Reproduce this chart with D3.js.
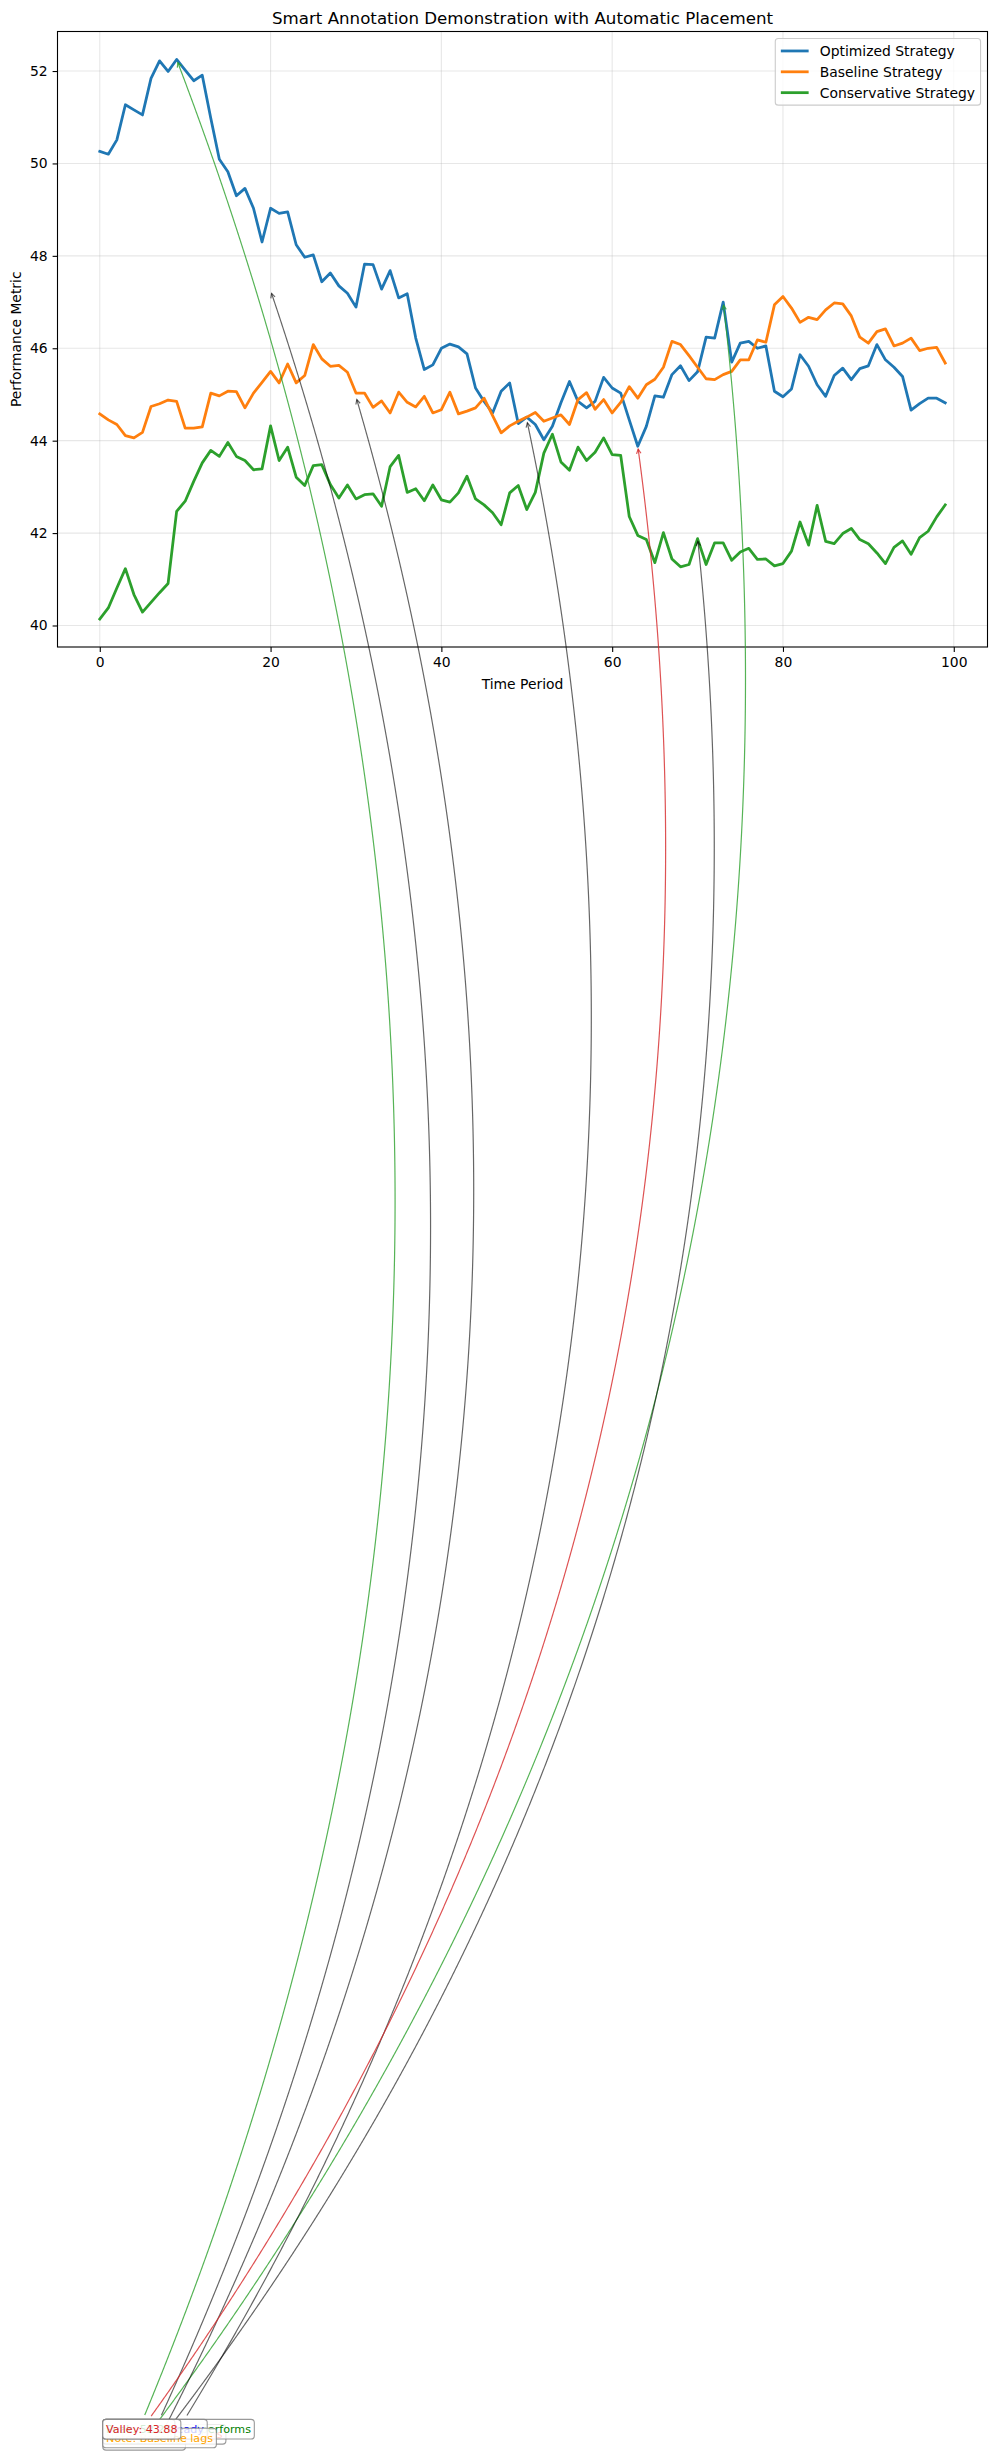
<!DOCTYPE html>
<html>
<head>
<meta charset="utf-8">
<script src="https://cdn.jsdelivr.net/npm/d3@7"></script>
<style>
  html, body { margin: 0; padding: 0; background: #ffffff; }
  svg { display: block; font-family: "DejaVu Sans", sans-serif; }
</style>
</head>
<body>
<svg id="chart" width="996" height="2456"></svg>
<script>
// ---------------- data ----------------
const seriesNames = ["Optimized Strategy", "Baseline Strategy", "Conservative Strategy"];

const optimized = [
  50.26, 50.20, 50.51, 51.27, 51.16, 51.05, 51.84, 52.22, 51.99, 52.25,
  52.02, 51.79, 51.91, 50.98, 50.09, 49.82, 49.30, 49.46, 49.03, 48.30,
  49.03, 48.92, 48.95, 48.24, 47.97, 48.02, 47.44, 47.63, 47.35, 47.19,
  46.89, 47.82, 47.81, 47.28, 47.68, 47.09, 47.18, 46.22, 45.54, 45.64,
  46.00, 46.09, 46.03, 45.88, 45.14, 44.85, 44.60, 45.07, 45.25, 44.37,
  44.51, 44.35, 44.02, 44.31, 44.82, 45.28, 44.85, 44.71, 44.85, 45.37,
  45.14, 45.03, 44.45, 43.88, 44.31, 44.97, 44.94, 45.43, 45.62, 45.30,
  45.49, 46.24, 46.22, 47.00, 45.70, 46.11, 46.15, 46.00, 46.05, 45.07,
  44.95, 45.12, 45.86, 45.61, 45.21, 44.96, 45.41, 45.57, 45.32, 45.56,
  45.62, 46.08, 45.75, 45.59, 45.39, 44.66, 44.80, 44.92, 44.92, 44.82
];

const baseline = [
  44.58, 44.45, 44.35, 44.11, 44.06, 44.18, 44.74, 44.80, 44.88, 44.85,
  44.27, 44.27, 44.30, 45.03, 44.97, 45.07, 45.06, 44.71, 45.03, 45.26,
  45.50, 45.25, 45.66, 45.25, 45.41, 46.08, 45.77, 45.61, 45.63, 45.48,
  45.03, 45.03, 44.72, 44.86, 44.60, 45.05, 44.83, 44.73, 44.96, 44.60,
  44.67, 45.05, 44.58, 44.64, 44.71, 44.92, 44.54, 44.17, 44.32, 44.42,
  44.51, 44.61, 44.42, 44.49, 44.56, 44.35, 44.89, 45.04, 44.68, 44.89,
  44.60, 44.83, 45.17, 44.92, 45.21, 45.33, 45.59, 46.15, 46.08, 45.84,
  45.59, 45.34, 45.32, 45.43, 45.50, 45.75, 45.75, 46.18, 46.13, 46.94,
  47.12, 46.87, 46.56, 46.67, 46.62, 46.83, 46.98, 46.96, 46.70, 46.24,
  46.11, 46.36, 46.42, 46.05, 46.11, 46.22, 45.95, 46.00, 46.02, 45.68
];

const conservative = [
  40.14, 40.38, 40.81, 41.23, 40.67, 40.29, 40.50, 40.71, 40.91, 42.47,
  42.69, 43.12, 43.52, 43.79, 43.66, 43.96, 43.66, 43.57, 43.37, 43.39,
  44.32, 43.57, 43.86, 43.21, 43.03, 43.46, 43.48, 43.05, 42.76, 43.04,
  42.74, 42.83, 42.85, 42.58, 43.44, 43.68, 42.88, 42.96, 42.70, 43.04,
  42.72, 42.67, 42.87, 43.23, 42.74, 42.61, 42.44, 42.18, 42.87, 43.03,
  42.51, 42.88, 43.73, 44.14, 43.54, 43.36, 43.86, 43.57, 43.75, 44.06,
  43.70, 43.68, 42.36, 41.95, 41.86, 41.36, 42.01, 41.44, 41.27, 41.32,
  41.88, 41.32, 41.79, 41.79, 41.41, 41.59, 41.67, 41.43, 41.44, 41.29,
  41.34, 41.61, 42.24, 41.74, 42.60, 41.82, 41.77, 41.99, 42.10, 41.86,
  41.77, 41.57, 41.34, 41.69, 41.83, 41.54, 41.90, 42.04, 42.35, 42.61
];

const xTicks = [0, 20, 40, 60, 80, 100];
const yTicks = [40, 42, 44, 46, 48, 50, 52];

// annotations (in drawing order, back to front)
const annoTexts  = ["Peak 2: 47.00", "Sharp decline begins", "Conservative outperforms",
                    "Optimized steady", "Note: Baseline lags", "Peak: 52.25", "Valley: 43.88"];
const annoPointX = [73, 70, 50, 20, 30, 9, 63];
const annoPointY = [47.00, 41.88, 44.45, 47.25, 44.95, 52.25, 43.88];
const annoTextX  = [0.74, 0.74, 0.74, 0.74, 0.74, 0.74, 0.74];
const annoTextY  = [0.64, 0.77, 0.88, 0.88, 0.69, 0.88, 0.88];

// ---------------- styles ----------------
const seriesColors = ["#1f77b4", "#ff7f0e", "#2ca02c"];
const annoTextColors  = ["#2ca02c", "red", "green", "blue", "orange", "#2ca02c", "#d62728"];
const annoArrowColors = ["#2ca02c", "#000000", "#000000", "#000000", "#000000", "#2ca02c", "#d62728"];
const annoArrowAlpha  = [0.8, 0.6, 0.6, 0.6, 0.6, 0.8, 0.8];

// ---------------- layout ----------------
const svg = d3.select("#chart");
const W = 996, H = 2456;
const plot = { left: 57.5, top: 31.5, right: 987.5, bottom: 647 };

const xs = d3.range(optimized.length);
const allVals = optimized.concat(baseline, conservative);
const [vmin, vmax] = d3.extent(allVals);
const yPad = (vmax - vmin) * 0.05;
const xPad = (xs.length - 1) * 0.05;

const x = d3.scaleLinear().domain([-xPad, xs.length - 1 + xPad]).range([plot.left, plot.right]);
const y = d3.scaleLinear().domain([vmin - yPad, vmax + yPad]).range([plot.bottom, plot.top]);

svg.append("rect").attr("width", W).attr("height", H).attr("fill", "#fff");

// grid
const grid = svg.append("g");
grid.selectAll(".gx").data(xTicks).join("line")
  .attr("x1", d => x(d)).attr("x2", d => x(d))
  .attr("y1", plot.top).attr("y2", plot.bottom)
  .attr("stroke", "#b0b0b0").attr("stroke-opacity", 0.3).attr("stroke-width", 1.1);
grid.selectAll(".gy").data(yTicks).join("line")
  .attr("y1", d => y(d)).attr("y2", d => y(d))
  .attr("x1", plot.left).attr("x2", plot.right)
  .attr("stroke", "#b0b0b0").attr("stroke-opacity", 0.3).attr("stroke-width", 1.1);

// axes
const xAxis = d3.axisBottom(x).tickValues(xTicks).tickSize(4.9).tickPadding(4.9).tickFormat(d3.format("d"));
const yAxis = d3.axisLeft(y).tickValues(yTicks).tickSize(4.9).tickPadding(4.9).tickFormat(d3.format("d"));
const gx = svg.append("g").attr("transform", `translate(0,${plot.bottom})`).call(xAxis);
const gy = svg.append("g").attr("transform", `translate(${plot.left},0)`).call(yAxis);
[gx, gy].forEach(g => {
  g.select(".domain").remove();
  g.selectAll(".tick line").attr("stroke", "#000").attr("stroke-width", 1.1);
  g.selectAll(".tick text").attr("fill", "#000").attr("font-size", "13.9px")
    .attr("font-family", "DejaVu Sans");
});
gx.selectAll(".tick text").attr("dy", "0.72em");

// lines
const line = d3.line().x((d, i) => x(i)).y(d => y(d));
[optimized, baseline, conservative].forEach((s, k) => {
  svg.append("path").datum(s).attr("d", line)
    .attr("fill", "none").attr("stroke", seriesColors[k])
    .attr("stroke-width", 2.78).attr("stroke-linejoin", "round").attr("stroke-linecap", "square");
});

// spines
svg.append("rect")
  .attr("x", plot.left).attr("y", plot.top)
  .attr("width", plot.right - plot.left).attr("height", plot.bottom - plot.top)
  .attr("fill", "none").attr("stroke", "#000").attr("stroke-width", 1.1);

// title & labels
svg.append("text").attr("x", (plot.left + plot.right) / 2).attr("y", 24)
  .attr("text-anchor", "middle").attr("font-size", "16.67px").attr("fill", "#000")
  .text("Smart Annotation Demonstration with Automatic Placement");
svg.append("text").attr("x", (plot.left + plot.right) / 2).attr("y", 689)
  .attr("text-anchor", "middle").attr("font-size", "13.9px").attr("fill", "#000")
  .text("Time Period");
svg.append("text")
  .attr("transform", `translate(16,${(plot.top + plot.bottom) / 2}) rotate(-90)`)
  .attr("text-anchor", "middle").attr("dominant-baseline", "central")
  .attr("font-size", "13.9px").attr("fill", "#000")
  .text("Performance Metric");

// legend
const fs = 13.9;
const leg = svg.append("g");
const legBox = leg.append("rect");
const legTexts = [];
seriesNames.forEach((name, k) => {
  const t = leg.append("text").attr("font-size", fs + "px").attr("fill", "#000")
    .attr("dominant-baseline", "central").text(name);
  legTexts.push(t);
});
const maxW = d3.max(legTexts, t => t.node().getComputedTextLength());
const legRight = plot.right - 0.5 * fs;
const legTop = plot.top + 0.5 * fs;
const legW = 0.4 * fs + 2 * fs + 0.8 * fs + maxW + 0.4 * fs;
const legLeft = legRight - legW;
const rowH = fs * 1.5;
const legH = 0.9 * fs * 2 + rowH * (seriesNames.length - 1);
legBox.attr("x", legLeft).attr("y", legTop).attr("width", legW).attr("height", legH)
  .attr("rx", 3).attr("fill", "#fff").attr("fill-opacity", 0.8)
  .attr("stroke", "#cccccc").attr("stroke-width", 1.1);
seriesNames.forEach((name, k) => {
  const cy = legTop + 0.9 * fs + k * rowH;
  leg.append("line")
    .attr("x1", legLeft + 0.4 * fs).attr("x2", legLeft + 0.4 * fs + 2 * fs)
    .attr("y1", cy).attr("y2", cy)
    .attr("stroke", seriesColors[k]).attr("stroke-width", 2.78);
  legTexts[k].attr("x", legLeft + 0.4 * fs + 2.8 * fs).attr("y", cy);
});

// annotations
const afs = 11.11;           // 8pt
const pad = 0.3 * afs;
const shrink = 2.78;         // 2pt
const headL = 0.4 * afs, headW = 0.2 * afs;
const rad = 0.2;
const annoLayer = svg.append("g");

annoTexts.forEach((txt, k) => {
  const g = annoLayer.append("g");
  const arrowG = g.append("g");
  const tx = x(annoTextX[k]);
  const ty = y(annoTextY[k]);
  const boxG = g.append("g");
  const t = boxG.append("text").attr("x", tx).attr("y", ty)
    .attr("font-size", afs + "px").attr("fill", annoTextColors[k]).text(txt);
  const tw = t.node().getComputedTextLength();
  const bx0 = tx - pad, bx1 = tx + tw + pad;
  const by0 = ty - 0.928 * afs - pad, by1 = ty + 0.236 * afs + pad;
  boxG.insert("rect", "text")
    .attr("x", bx0).attr("y", by0).attr("width", bx1 - bx0).attr("height", by1 - by0)
    .attr("rx", pad).attr("fill", "#fff").attr("fill-opacity", 0.8)
    .attr("stroke", "#808080").attr("stroke-opacity", 0.8).attr("stroke-width", 1.1);

  // arc3 connection from box centre to target point
  const p0 = { x: (bx0 + bx1) / 2, y: (by0 + by1) / 2 };
  const p2 = { x: x(annoPointX[k]), y: y(annoPointY[k]) };
  const dx = p2.x - p0.x, dy = p2.y - p0.y;
  const c = { x: (p0.x + p2.x) / 2 - rad * dy, y: (p0.y + p2.y) / 2 + rad * dx };
  const N = 1500;
  const pts = d3.range(N + 1).map(i => {
    const s = i / N, u = 1 - s;
    return { x: u * u * p0.x + 2 * u * s * c.x + s * s * p2.x,
             y: u * u * p0.y + 2 * u * s * c.y + s * s * p2.y };
  });
  const outside = p => p.x < bx0 - shrink || p.x > bx1 + shrink || p.y < by0 - shrink || p.y > by1 + shrink;
  let i0 = pts.findIndex(outside);
  let i1 = N;
  while (i1 > 0 && Math.hypot(pts[i1].x - p2.x, pts[i1].y - p2.y) < shrink) i1--;
  const seg = pts.slice(i0, i1 + 1);
  const col = annoArrowColors[k], op = annoArrowAlpha[k];
  arrowG.append("path").datum(seg)
    .attr("d", d3.line().x(d => d.x).y(d => d.y))
    .attr("fill", "none").attr("stroke", col).attr("stroke-opacity", op).attr("stroke-width", 1.2);
  // open arrow head "->"
  const tip = seg[seg.length - 1];
  const prev = seg[Math.max(0, seg.length - 12)];
  const ux = tip.x - prev.x, uy = tip.y - prev.y;
  const ul = Math.hypot(ux, uy);
  const ex = ux / ul, ey = uy / ul;
  const wing = sgn => [tip.x - headL * ex + sgn * headW * (-ey), tip.y - headL * ey + sgn * headW * ex];
  arrowG.append("path")
    .datum([wing(1), [tip.x, tip.y], wing(-1)])
    .attr("d", d3.line())
    .attr("fill", "none").attr("stroke", col).attr("stroke-opacity", op).attr("stroke-width", 1.2);
});
</script>
</body>
</html>
